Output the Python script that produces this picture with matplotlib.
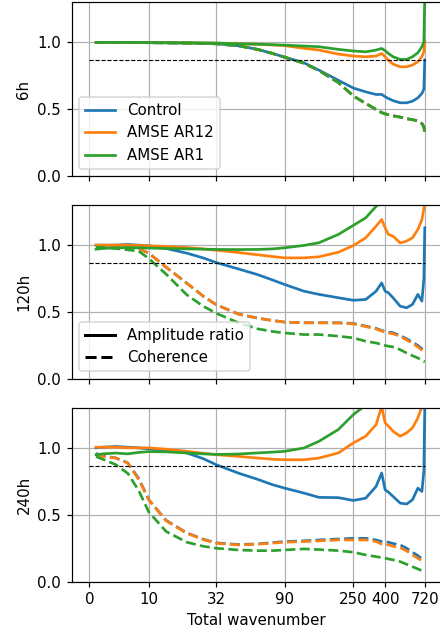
import numpy as np
import matplotlib.pyplot as plt
from matplotlib.lines import Line2D
from matplotlib.ticker import NullLocator

# vlnová čísla (společná mřížka pro všechny křivky)
wn = [1, 2, 4, 6, 8, 10, 14, 20, 26, 32, 45, 60, 75, 90, 120, 150, 200, 250,
      300, 350, 380, 400, 420, 450, 500, 550, 600, 650, 690, 710, 720]

# 6h - poměr amplitud
ctrl_amp_6h = [1.0, 1.0, 1.0, 1.0, 0.999, 0.998, 0.997, 0.995, 0.993, 0.99, 0.975, 0.948, 0.918, 0.89,
               0.848, 0.793, 0.717, 0.659, 0.631, 0.611, 0.612, 0.595, 0.581, 0.565, 0.549, 0.549,
               0.561, 0.586, 0.619, 0.65, 0.87]
ar12_amp_6h = [1.0, 1.0, 1.0, 1.0, 1.0, 0.999, 0.998, 0.997, 0.996, 0.995, 0.99, 0.986, 0.981, 0.976,
               0.956, 0.943, 0.913, 0.898, 0.893, 0.898, 0.918, 0.893, 0.868, 0.838, 0.818, 0.818,
               0.831, 0.856, 0.893, 0.93, 1.005]
ar1_amp_6h = [1.0, 1.0, 1.0, 1.0, 1.0, 0.999, 0.998, 0.997, 0.996, 0.995, 0.99, 0.987, 0.983, 0.98,
              0.973, 0.968, 0.948, 0.936, 0.93, 0.943, 0.955, 0.938, 0.918, 0.893, 0.873, 0.873,
              0.893, 0.923, 0.968, 1.005, 1.35]
# 6h - koherence
ctrl_coh_6h = [1.0, 1.0, 1.0, 1.0, 0.999, 0.998, 0.997, 0.995, 0.993, 0.99, 0.975, 0.948, 0.918, 0.89,
               0.845, 0.79, 0.7, 0.6, 0.544, 0.499, 0.476, 0.466, 0.46, 0.452, 0.442, 0.43,
               0.423, 0.413, 0.395, 0.37, 0.33]
ar12_coh_6h = list(ctrl_coh_6h)
ar1_coh_6h = list(ctrl_coh_6h)

# 120h - poměr amplitud
ctrl_amp_120h = [1.0, 1.0, 1.0, 1.005, 1.0, 0.995, 0.975, 0.94, 0.905, 0.87, 0.822, 0.78, 0.74, 0.706,
                 0.656, 0.632, 0.607, 0.588, 0.594, 0.656, 0.718, 0.656, 0.644, 0.607, 0.544, 0.532,
                 0.557, 0.632, 0.582, 0.744, 1.13]
ar12_amp_120h = [1.0, 1.0, 1.0, 1.0, 0.998, 0.995, 0.99, 0.982, 0.972, 0.962, 0.945, 0.928, 0.915, 0.905,
                 0.905, 0.913, 0.947, 0.997, 1.055, 1.142, 1.192, 1.129, 1.08, 1.067, 1.017, 1.03,
                 1.055, 1.117, 1.19, 1.27, 1.32]
ar1_amp_120h = [0.97, 0.975, 0.98, 0.982, 0.98, 0.978, 0.975, 0.972, 0.97, 0.968, 0.967, 0.968, 0.972, 0.98,
                0.998, 1.018, 1.08, 1.148, 1.204, 1.29, 1.33, 1.36, 1.38, 1.4, 1.4, 1.42,
                1.45, 1.5, 1.55, 1.6, 1.7]
# 120h - koherence
ctrl_coh_120h = [0.99, 0.99, 0.99, 0.985, 0.975, 0.94, 0.835, 0.716, 0.62, 0.555, 0.485, 0.455, 0.437, 0.425,
                 0.42, 0.42, 0.42, 0.415, 0.395, 0.378, 0.362, 0.355, 0.35, 0.345, 0.325, 0.3,
                 0.275, 0.25, 0.226, 0.215, 0.21]
ar12_coh_120h = [0.99, 0.99, 0.99, 0.985, 0.975, 0.94, 0.835, 0.716, 0.62, 0.555, 0.485, 0.455, 0.437, 0.425,
                 0.42, 0.42, 0.418, 0.412, 0.392, 0.374, 0.358, 0.35, 0.344, 0.338, 0.318, 0.292,
                 0.267, 0.24, 0.215, 0.205, 0.2]
ar1_coh_120h = [0.985, 0.983, 0.975, 0.965, 0.955, 0.9, 0.783, 0.629, 0.545, 0.491, 0.42, 0.375, 0.355, 0.344,
                0.332, 0.332, 0.32, 0.307, 0.282, 0.269, 0.257, 0.25, 0.245, 0.239, 0.219, 0.194,
                0.174, 0.157, 0.14, 0.132, 0.128]

# 240h - poměr amplitud
ctrl_amp_240h = [1.0, 1.005, 1.01, 1.005, 1.0, 0.992, 0.982, 0.962, 0.92, 0.874, 0.811, 0.765, 0.725, 0.699,
                 0.662, 0.63, 0.628, 0.607, 0.624, 0.712, 0.812, 0.687, 0.669, 0.637, 0.587, 0.58,
                 0.612, 0.699, 0.674, 0.824, 1.29]
ar12_amp_240h = [1.005, 1.005, 1.005, 1.0, 1.0, 1.0, 0.99, 0.974, 0.96, 0.949, 0.936, 0.924, 0.915, 0.911,
                 0.911, 0.924, 0.962, 1.037, 1.087, 1.174, 1.31, 1.187, 1.162, 1.124, 1.087, 1.112,
                 1.149, 1.224, 1.31, 1.35, 1.4]
ar1_amp_240h = [0.949, 0.955, 0.961, 0.955, 0.966, 0.972, 0.97, 0.962, 0.955, 0.951, 0.954, 0.962, 0.968, 0.974,
                0.999, 1.049, 1.137, 1.249, 1.32, 1.4, 1.45, 1.48, 1.5, 1.52, 1.55, 1.58,
                1.6, 1.65, 1.7, 1.75, 1.8]
# 240h - koherence
ctrl_coh_240h = [0.958, 0.94, 0.925, 0.888, 0.77, 0.612, 0.458, 0.365, 0.318, 0.29, 0.278, 0.282, 0.292, 0.3,
                 0.305, 0.312, 0.319, 0.324, 0.324, 0.312, 0.3, 0.298, 0.295, 0.285, 0.275, 0.25,
                 0.22, 0.195, 0.17, 0.163, 0.16]
ar12_coh_240h = [0.955, 0.936, 0.924, 0.886, 0.762, 0.611, 0.455, 0.362, 0.315, 0.287, 0.275, 0.28, 0.288, 0.295,
                 0.3, 0.305, 0.312, 0.312, 0.312, 0.3, 0.28, 0.278, 0.275, 0.265, 0.255, 0.23,
                 0.2, 0.175, 0.155, 0.15, 0.145]
ar1_coh_240h = [0.935, 0.915, 0.875, 0.81, 0.68, 0.52, 0.375, 0.295, 0.265, 0.25, 0.237, 0.232, 0.232, 0.237,
                0.245, 0.24, 0.232, 0.22, 0.2, 0.187, 0.18, 0.176, 0.17, 0.163, 0.15, 0.13,
                0.112, 0.095, 0.082, 0.078, 0.075]

labels = ["Control", "AMSE AR12", "AMSE AR1"]
colors = ["C0", "C1", "C2"]
leads = ["6h", "120h", "240h"]
amp = [[ctrl_amp_6h, ar12_amp_6h, ar1_amp_6h],
       [ctrl_amp_120h, ar12_amp_120h, ar1_amp_120h],
       [ctrl_amp_240h, ar12_amp_240h, ar1_amp_240h]]
coh = [[ctrl_coh_6h, ar12_coh_6h, ar1_coh_6h],
       [ctrl_coh_120h, ar12_coh_120h, ar1_coh_120h],
       [ctrl_coh_240h, ar12_coh_240h, ar1_coh_240h]]

xticks = [0, 10, 32, 90, 250, 400, 720]
threshold = 0.866

# 440x634 pixelů při 108 dpi
fig, axes = plt.subplots(3, 1, figsize=(440 / 108, 634 / 108), dpi=108, sharex=True)
fig.subplots_adjust(left=0.163, right=1.003, top=0.9964, bottom=0.0825, hspace=0.165)

for i, ax in enumerate(axes):
    for j in range(3):
        ax.plot(wn, amp[i][j], color=colors[j], lw=1.8, label=labels[j])
        ax.plot(wn, coh[i][j], color=colors[j], lw=1.8, ls="--")
    ax.hlines(threshold, 0, 720, colors="k", linestyles="--", lw=0.75)
    ax.set_xscale("asinh", linear_width=10)
    ax.set_ylim(0, 1.3)
    ax.set_yticks([0.0, 0.5, 1.0])
    ax.set_ylabel(leads[i])
    ax.grid(True)

ax = axes[-1]
ax.set_xlim(-2.64, 920)
ax.set_xticks(xticks)
ax.set_xticklabels([str(t) for t in xticks])
for a in axes:
    a.xaxis.set_minor_locator(NullLocator())
ax.set_xlabel("Total wavenumber")

axes[0].legend(loc="lower left")
style_handles = [Line2D([], [], color="k", lw=2, ls="-"),
                 Line2D([], [], color="k", lw=2, ls="--")]
axes[1].legend(style_handles, ["Amplitude ratio", "Coherence"], loc="lower left")

plt.savefig("out.png")
